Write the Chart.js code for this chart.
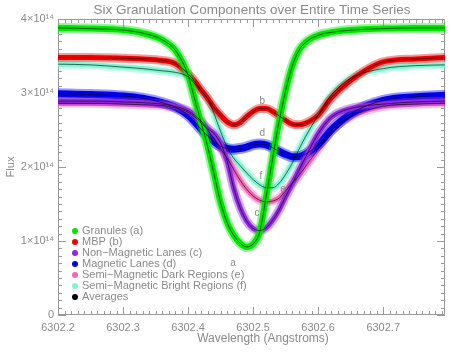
<!DOCTYPE html>
<html>
<head>
<meta charset="utf-8">
<script src="https://cdn.jsdelivr.net/npm/chart.js@4/dist/chart.umd.min.js"></script>
<style>
  html, body { margin: 0; padding: 0; background: #fff; }
  #chart { display: block; }
</style>
</head>
<body>
<canvas id="chart" width="463" height="353"></canvas>
<script>
// wavelength grid (Angstroms), flux values in units of 1e14
const wavelengths = [6302.20, 6302.25, 6302.30, 6302.33, 6302.36, 6302.38,
  6302.40, 6302.41, 6302.42, 6302.43, 6302.44, 6302.45, 6302.46, 6302.47, 6302.48, 6302.49,
  6302.50, 6302.51, 6302.52, 6302.53, 6302.54, 6302.55, 6302.56, 6302.57, 6302.58,
  6302.60, 6302.62, 6302.65, 6302.70, 6302.75, 6302.795];

const granules   = [3.88, 3.87, 3.85, 3.81, 3.72, 3.58, 3.24, 2.92, 2.60, 2.28, 1.90, 1.52, 1.25, 1.08, 0.97, 0.92,
  0.96, 1.12, 1.60, 2.12, 2.62, 3.03, 3.36, 3.57, 3.68, 3.78, 3.82, 3.85, 3.87, 3.88, 3.88];
const mbp        = [3.48, 3.48, 3.47, 3.46, 3.44, 3.40, 3.26, 3.16, 3.04, 2.93, 2.80, 2.70, 2.61, 2.57, 2.60, 2.68,
  2.75, 2.79, 2.79, 2.75, 2.69, 2.63, 2.58, 2.57, 2.59, 2.70, 2.93, 3.17, 3.42, 3.46, 3.48];
const nonMagLanes = [2.89, 2.89, 2.88, 2.87, 2.85, 2.82, 2.76, 2.70, 2.62, 2.52, 2.45, 2.32, 2.08, 1.72, 1.45, 1.27,
  1.17, 1.14, 1.18, 1.28, 1.42, 1.60, 1.77, 1.95, 2.12, 2.45, 2.67, 2.79, 2.85, 2.88, 2.89];
const magLanes   = [2.99, 2.98, 2.96, 2.93, 2.87, 2.81, 2.70, 2.61, 2.51, 2.42, 2.34, 2.28, 2.25, 2.24, 2.25, 2.27,
  2.30, 2.31, 2.30, 2.26, 2.21, 2.17, 2.14, 2.14, 2.17, 2.30, 2.50, 2.72, 2.90, 2.95, 2.97];
const semiDark   = [2.86, 2.86, 2.85, 2.84, 2.83, 2.80, 2.74, 2.68, 2.60, 2.50, 2.38, 2.25, 2.12, 1.97, 1.82, 1.70,
  1.61, 1.55, 1.53, 1.54, 1.58, 1.68, 1.78, 1.88, 2.00, 2.24, 2.49, 2.68, 2.82, 2.85, 2.86];
const semiBright = [3.39, 3.38, 3.35, 3.33, 3.30, 3.28, 3.22, 3.13, 3.03, 2.92, 2.72, 2.48, 2.27, 2.12, 2.02, 1.92,
  1.83, 1.76, 1.72, 1.72, 1.78, 1.90, 2.05, 2.23, 2.40, 2.70, 2.97, 3.20, 3.33, 3.37, 3.38];

const seriesNames = ["Granules (a)", "MBP (b)", "Non\u2212Magnetic Lanes (c)", "Magnetic Lanes (d)",
  "Semi\u2212Magnetic Dark Regions (e)", "Semi\u2212Magnetic Bright Regions (f)"];
const seriesData = [granules, mbp, nonMagLanes, magLanes, semiDark, semiBright];
const seriesColors = ["#00e600", "#ee0000", "#9129e0", "#0000ee", "#f466b4", "#7ff5d2"];
const bandWidths = [6, 5, 5, 7, 5, 5];

// curve letters: [letter, wavelength, flux]
const letterLabels = [["a", 6302.469, 0.70], ["b", 6302.514, 2.89], ["c", 6302.506, 1.38],
  ["d", 6302.514, 2.46], ["e", 6302.546, 1.70], ["f", 6302.512, 1.88]];

const xTicks = [6302.2, 6302.3, 6302.4, 6302.5, 6302.6, 6302.7];
const yTicks = [0, 1, 2, 3, 4];

const TXT = "#8a8a8a";
const FONT = "Liberation Sans";

const pts = (arr) => arr.map((v, i) => ({ x: wavelengths[i], y: v }));
const alpha = (hex, a) => {
  const n = parseInt(hex.slice(1), 16);
  return `rgba(${n >> 16},${(n >> 8) & 255},${n & 255},${a})`;
};

const datasets = [];
// black averages on top, then solid bands, then soft halo behind each band
seriesData.forEach((arr) => {
  datasets.push({ data: pts(arr), borderColor: "#000", borderWidth: 0.6, pointRadius: 0,
    cubicInterpolationMode: "monotone", order: 0 });
});
seriesData.forEach((arr, i) => {
  datasets.push({ data: pts(arr), borderColor: seriesColors[i], borderWidth: bandWidths[i], pointRadius: 0,
    cubicInterpolationMode: "monotone", order: 1 + 2 * i });
  datasets.push({ data: pts(arr), borderColor: alpha(seriesColors[i], 0.4), borderWidth: bandWidths[i] + 4,
    pointRadius: 0, cubicInterpolationMode: "monotone", order: 2 + 2 * i });
});

const frame = {
  id: "frame",
  beforeDatasetsDraw(chart) {
    const { ctx, chartArea: a, scales: { x, y } } = chart;
    ctx.save();
    ctx.strokeStyle = "#999";
    ctx.lineWidth = 1;
    ctx.strokeRect(a.left + 0.5, a.top + 0.5, a.right - a.left - 1, a.bottom - a.top - 1);
    ctx.beginPath();
    for (let k = 0; k <= 60; k++) {
      const px = Math.round(x.getPixelForValue(6302.2 + k * 0.01)) + 0.5;
      if (px > a.right) break;
      const len = k % 10 === 0 ? 8 : 4;
      ctx.moveTo(px, a.bottom); ctx.lineTo(px, a.bottom - len);
      ctx.moveTo(px, a.top); ctx.lineTo(px, a.top + len);
    }
    for (let k = 0; k <= 40; k++) {
      const py = Math.round(y.getPixelForValue(k * 0.1)) + 0.5;
      const len = k % 10 === 0 ? 8 : 4;
      ctx.moveTo(a.left, py); ctx.lineTo(a.left + len, py);
      ctx.moveTo(a.right, py); ctx.lineTo(a.right - len, py);
    }
    ctx.stroke();
    ctx.restore();
  },
  afterDraw(chart) {
    const { ctx, scales: { x, y } } = chart;
    ctx.save();
    ctx.fillStyle = TXT;
    ctx.textAlign = "center";
    ctx.textBaseline = "middle";
    ctx.font = `13.5px "${FONT}"`;
    ctx.fillText("Six Granulation Components over Entire Time Series", 252, 10);
    ctx.font = `12px "${FONT}"`;
    ctx.fillText("Wavelength (Angstroms)", 263, 339);
    ctx.save();
    ctx.translate(11, 167);
    ctx.rotate(-Math.PI / 2);
    ctx.font = `11px "${FONT}"`;
    ctx.fillText("Flux", 0, 0);
    ctx.restore();

    // curve letters
    ctx.font = `10px "${FONT}"`;
    letterLabels.forEach(([t, wx, fy]) => {
      ctx.fillText(t, x.getPixelForValue(wx), y.getPixelForValue(fy));
    });

    // legend
    ctx.textAlign = "left";
    ctx.font = `11px "${FONT}"`;
    const names = seriesNames.concat(["Averages"]);
    const cols = seriesColors.concat(["#000"]);
    names.forEach((n, i) => {
      const yy = 231 + i * 11;
      ctx.fillStyle = cols[i];
      ctx.beginPath();
      ctx.arc(75, yy, 3, 0, Math.PI * 2);
      ctx.fill();
      ctx.fillStyle = TXT;
      ctx.fillText(n, 82, yy);
    });
    ctx.restore();
  }
};

new Chart(document.getElementById("chart"), {
  type: "line",
  data: { datasets },
  options: {
    responsive: false,
    animation: false,
    layout: { padding: { top: 19, right: 18, left: 0, bottom: 0 } },
    plugins: { legend: { display: false }, tooltip: { enabled: false } },
    scales: {
      x: {
        type: "linear", min: 6302.2, max: 6302.795,
        afterBuildTicks: (s) => { s.ticks = xTicks.map((v) => ({ value: v })); },
        afterFit: (s) => { s.height = 38; },
        grid: { display: false, drawTicks: false }, border: { display: false },
        ticks: { color: TXT, font: { family: FONT, size: 11 }, padding: 6, maxRotation: 0,
          callback: (v) => v.toFixed(1) }
      },
      y: {
        min: 0, max: 4,
        afterBuildTicks: (s) => { s.ticks = yTicks.map((v) => ({ value: v })); },
        afterFit: (s) => { s.width = 58; },
        grid: { display: false, drawTicks: false }, border: { display: false },
        ticks: { color: TXT, font: { family: FONT, size: 11 }, padding: 4,
          callback: (v) => (v === 0 ? "0" : v + "\u00d710\u00b9\u2074") }
      }
    }
  },
  plugins: [frame]
});
</script>
</body>
</html>
